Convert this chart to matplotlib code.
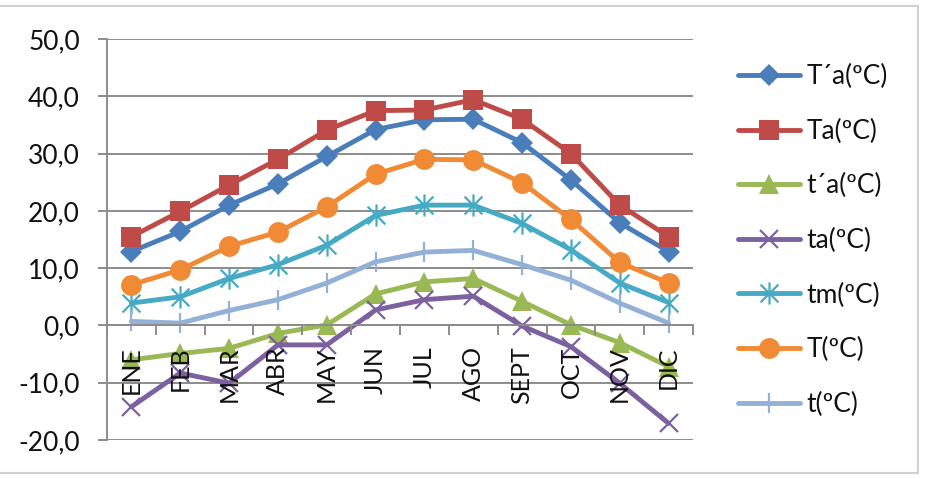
import matplotlib
matplotlib.use("Agg")
import matplotlib.pyplot as plt
from matplotlib.path import Path
from matplotlib.patches import Rectangle

plt.rcParams['font.family'] = ['Lato', 'DejaVu Sans']

months = ["ENE", "FEB", "MAR", "ABR", "MAY", "JUN", "JUL", "AGO", "SEPT", "OCT", "NOV", "DIC"]

Tpa = [12.9, 16.4, 21.0, 24.7, 29.5, 34.2, 35.9, 36.0, 31.9, 25.4, 17.9, 12.9]
Ta = [15.5, 19.9, 24.5, 29.0, 34.1, 37.5, 37.6, 39.4, 36.0, 30.0, 21.0, 15.5]
tpa = [-6.0, -4.9, -4.0, -1.4, 0.1, 5.5, 7.6, 8.2, 4.2, 0.1, -3.0, -7.2]
ta = [-14.2, -8.3, -10.1, -3.4, -3.4, 2.7, 4.5, 5.1, -0.1, -3.7, -10.1, -17.1]
tm = [3.9, 5.0, 8.2, 10.6, 14.0, 19.2, 21.0, 21.0, 17.8, 13.2, 7.4, 4.0]
T = [7.1, 9.7, 13.8, 16.3, 20.7, 26.4, 29.0, 28.9, 24.9, 18.5, 11.0, 7.4]
t = [0.7, 0.4, 2.6, 4.5, 7.4, 11.1, 12.8, 13.1, 10.6, 7.9, 3.9, 0.4]

labels = ["T\u00b4a(\u00baC)", "Ta(\u00baC)", "t\u00b4a(\u00baC)", "ta(\u00baC)", "tm(\u00baC)", "T(\u00baC)", "t(\u00baC)"]
colors = ["#4A7EBB", "#BE4B48", "#98B954", "#7D60A0", "#46AAC5", "#F08A35", "#93B1D6"]

# Excel-like star marker: X plus vertical bar
star = Path([(0, -1), (0, 1), (-0.8, -0.8), (0.8, 0.8), (-0.8, 0.8), (0.8, -0.8)],
            [Path.MOVETO, Path.LINETO, Path.MOVETO, Path.LINETO, Path.MOVETO, Path.LINETO])

styles = [
    dict(marker='D', ms=11, mew=0),
    dict(marker='s', ms=14, mew=0),
    dict(marker='^', ms=14, mew=0),
    dict(marker='x', ms=13, mew=1.6),
    dict(marker=star, ms=16, mew=1.6),
    dict(marker='o', ms=15, mew=0),
    dict(marker='|', ms=15, mew=1.6),
]

fig = plt.figure(figsize=(9.28, 4.79), dpi=100)
fig.patches.append(Rectangle((-0.01, 6/479), 918/928 + 0.01, 1 - 12/479, transform=fig.transFigure,
                             fill=False, edgecolor="#D0D0D0", lw=1.5))
ax = fig.add_axes([107/928, 1 - 440/479, (693 - 107)/928, (440 - 39)/479])

x = list(range(len(months)))
series = [Tpa, Ta, tpa, ta, tm, T, t]
for s, lab, c, st in zip(series, labels, colors, styles):
    ax.plot(x, s, color=c, lw=3.5, label=lab, mfc=c, mec=c,
            solid_joinstyle='round', solid_capstyle='round', **st)

grid_c = "#8C8C8C"
ax.set_ylim(-20, 50)
ax.set_xlim(-0.5, 11.5)
ax.set_yticks(range(-20, 51, 10))
ax.set_yticklabels([f"{v},0" for v in range(-20, 51, 10)])
ax.yaxis.grid(True, color=grid_c, lw=1.4)
ax.set_axisbelow(True)
for sp in ['top', 'right']:
    ax.spines[sp].set_visible(False)
ax.spines['left'].set_color(grid_c)
ax.spines['left'].set_linewidth(1.4)
ax.spines['bottom'].set_position(('data', 0))
ax.spines['bottom'].set_color(grid_c)
ax.spines['bottom'].set_linewidth(1.4)

ax.set_xticks([i - 0.5 for i in range(13)])
ax.set_xticklabels([])
ax.set_xticks(x, minor=True)
ax.set_xticklabels(months, minor=True, rotation=90, va='top', ha='center')
ax.tick_params(axis='x', which='major', length=7, width=1.4, color=grid_c, direction='out')
ax.tick_params(axis='x', which='minor', length=0, pad=15, labelsize=18, labelcolor='#111111')
ax.tick_params(axis='y', length=6.5, width=1.4, color=grid_c, pad=13, labelsize=19, labelcolor='#111111')
ax.xaxis.set_zorder(5)

leg = ax.legend(loc='upper left', bbox_to_anchor=(738/928, 1 - 64/479), bbox_transform=fig.transFigure,
                frameon=False, fontsize=19, handlelength=2.35, handletextpad=0.25,
                labelspacing=1.12, borderpad=0, borderaxespad=0, numpoints=1)
for txt in leg.get_texts():
    txt.set_color('#111111')

fig.savefig("out.png", dpi=100)
